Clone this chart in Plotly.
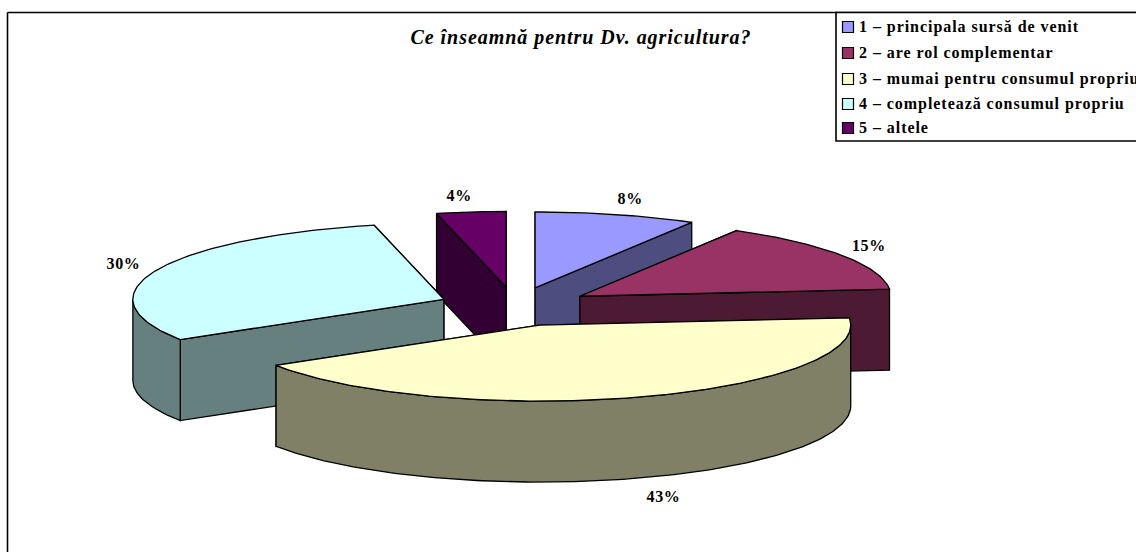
import math
import plotly.graph_objects as go

# ---- data ----
categories = ["1 – principala sursă de venit", "2 – are rol complementar",
              "3 – mumai pentru consumul propriu", "4 – completează consumul propriu",
              "5 – altele"]
values = [8.4, 15.1, 42.6, 30.3, 3.6]
title_text = "Ce înseamnă pentru Dv. agricultura?"

# ---- styling ----
top_colors = ["#9999FF", "#993366", "#FFFFCC", "#CCFFFF", "#660066"]
side_colors = ["#4D4D80", "#4D1A33", "#808066", "#668080", "#330033"]
draw_order = [0, 4, 1, 3, 2]
label_offsets = [(14, -15), (27, -8), (24, 20), (-33, -5), (-12, -15)]
legend_x, legend_text_x, legend_y = 848, 859, [27, 53, 79, 104, 128]
legend_text_dy = 1

W, H = 1136, 552
CX, CY = 515, 306.7     # pie centre
RX, RY = 311, 76        # ellipse radii of the tilted pie
EX, EY = 77, 19.4       # explosion distance
DEPTH = 81
FONT = "Liberation Serif"


def pt(apex, deg, drop=0):
    a = math.radians(deg)
    return apex[0] + RX * math.sin(a), apex[1] - RY * math.cos(a) + drop


def arc(apex, a0, a1, drop=0):
    n = max(2, int(abs(a1 - a0)) + 1)
    return [pt(apex, a0 + (a1 - a0) * i / (n - 1), drop) for i in range(n)]


def poly(points, color, name):
    xs = [p[0] for p in points] + [points[0][0]]
    ys = [p[1] for p in points] + [points[0][1]]
    return go.Scatter(x=xs, y=ys, mode="lines", fill="toself", fillcolor=color,
                      line=dict(color="black", width=1.3), name=name,
                      hoverinfo="skip", showlegend=False)


total = sum(values)
starts, ends, acc = [], [], 0.0
for v in values:
    starts.append(acc / total * 360)
    acc += v
    ends.append(acc / total * 360)

apexes = []
for s, e in zip(starts, ends):
    m = math.radians((s + e) / 2)
    apexes.append((CX + EX * math.sin(m), CY - EY * math.cos(m)))

fig = go.Figure()
for i in draw_order:
    a0, a1, ap = starts[i], ends[i], apexes[i]
    dn = (ap[0], ap[1] + DEPTH)
    # back-facing cut face first, front-facing one after it
    for ang in sorted((a0, a1), key=lambda d: -math.cos(math.radians(d))):
        p = pt(ap, ang)
        fig.add_trace(poly([ap, p, pt(ap, ang, DEPTH), dn], side_colors[i], categories[i]))
    lo, hi = max(a0, 90), min(a1, 270)
    if hi > lo:
        fig.add_trace(poly(arc(ap, lo, hi) + arc(ap, hi, lo, DEPTH), side_colors[i], categories[i]))
    fig.add_trace(poly([ap] + arc(ap, a0, a1), top_colors[i], categories[i]))

# percentage labels
lx, ly, lt = [], [], []
for i, v in enumerate(values):
    m = (starts[i] + ends[i]) / 2
    p = pt(apexes[i], m, DEPTH if 90 < m < 270 else 0)
    lx.append(p[0] + label_offsets[i][0])
    ly.append(p[1] + label_offsets[i][1])
    lt.append(f"<b>{round(v)}%</b>")
fig.add_trace(go.Scatter(x=lx, y=ly, text=lt, mode="text", textposition="middle center",
                         textfont=dict(family=FONT, size=16, color="black"),
                         showlegend=False, hoverinfo="skip"))

# legend
fig.add_trace(go.Scatter(x=[legend_x] * len(categories), y=legend_y, mode="markers",
                         marker=dict(symbol="square", size=11, color=top_colors,
                                     line=dict(color="black", width=1.2)),
                         showlegend=False, hoverinfo="skip"))
fig.add_trace(go.Scatter(x=[legend_text_x] * len(categories),
                         y=[y + legend_text_dy for y in legend_y],
                         text=[f"<b>{c}</b>" for c in categories],
                         mode="text", textposition="middle right",
                         textfont=dict(family=FONT, size=16, color="black"),
                         showlegend=False, hoverinfo="skip"))

frame = dict(color="black", width=1.6)
fig.update_layout(
    width=W, height=H, margin=dict(l=0, r=0, t=0, b=0), showlegend=False,
    paper_bgcolor="white", plot_bgcolor="white",
    title=dict(text=f"<b><i>{title_text}</i></b>", x=581 / W, xanchor="center",
               y=1 - 37 / H, yanchor="middle",
               font=dict(family=FONT, size=20, color="black")),
    xaxis=dict(range=[0, W], visible=False, fixedrange=True),
    yaxis=dict(range=[H, 0], visible=False, fixedrange=True),
    shapes=[
        dict(type="line", x0=7.5, x1=7.5, y0=12.5, y1=H, line=frame, layer="below"),
        dict(type="line", x0=7.5, x1=W, y0=12.5, y1=12.5, line=frame, layer="below"),
        dict(type="rect", x0=836, x1=W + 5, y0=12.5, y1=141, line=frame, fillcolor="white", layer="below"),
    ],
)

post = """
document.body.style.margin='0';
document.querySelectorAll('text').forEach(function(t){
  t.style.letterSpacing = t.textContent.indexOf('–') >= 0 ? '0.95px' : '0.7px';
});
document.querySelectorAll('.gtitle').forEach(function(t){t.style.letterSpacing='0.95px';});
"""
fig.write_html("out.html", post_script=post, config=dict(displayModeBar=False))
